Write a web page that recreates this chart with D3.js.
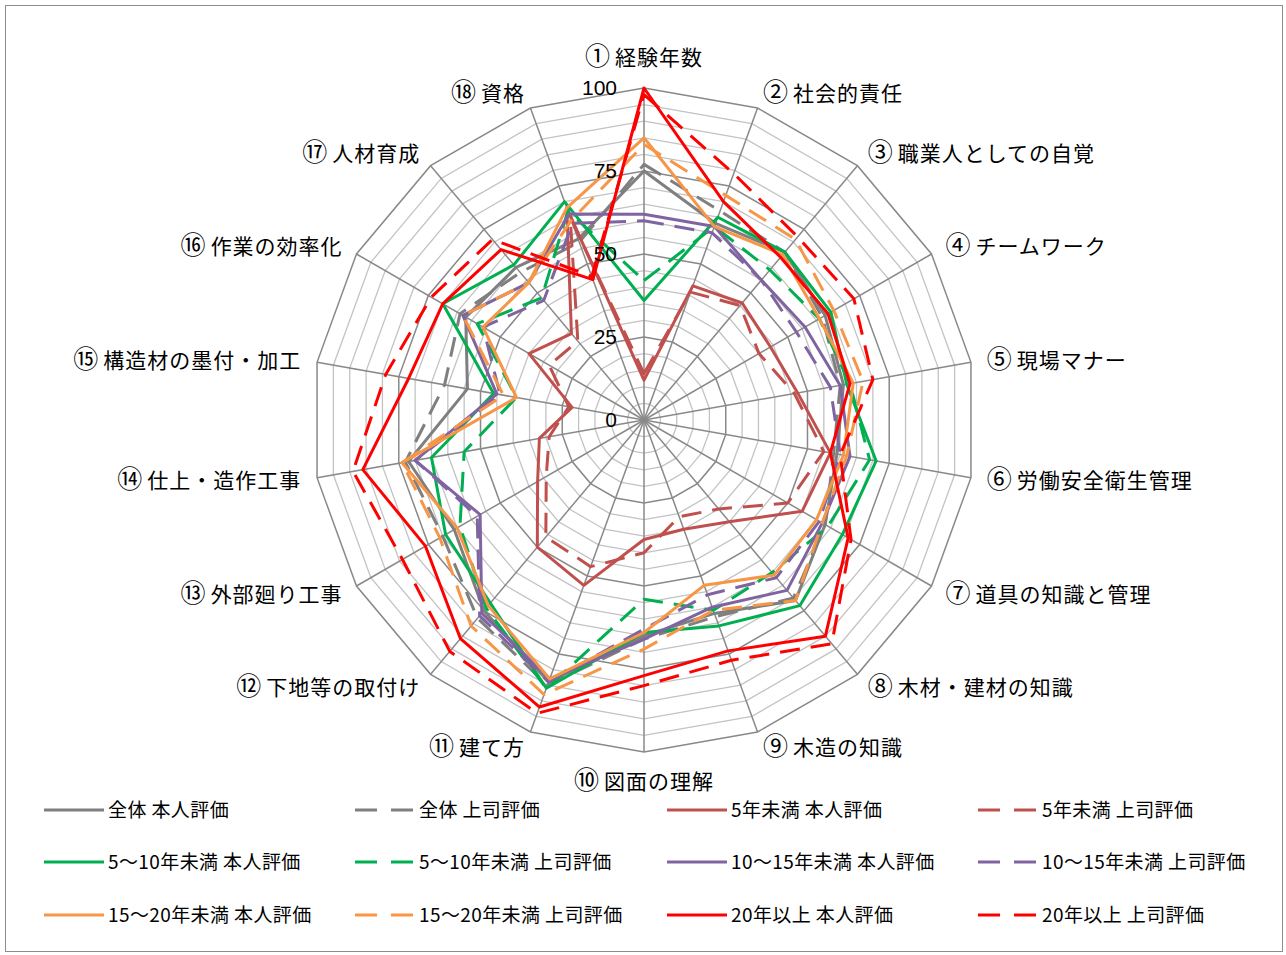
<!DOCTYPE html>
<html>
<head>
<meta charset="utf-8">
<script src="https://cdn.jsdelivr.net/npm/d3@7"></script>
<style>
  body { margin: 0; background: #fff; }
  svg { display: block; }
  text { font-family: "Noto Sans CJK JP", sans-serif; fill: #000; }
</style>
</head>
<body>
<svg id="radar" width="1286" height="955"></svg>
<script>
// axis labels (clockwise from top)
var axisNumbers = ["①", "②", "③", "④", "⑤", "⑥", "⑦", "⑧", "⑨", "⑩", "⑪", "⑫", "⑬", "⑭", "⑮", "⑯", "⑰", "⑱"];
var axisLabels = ["経験年数", "社会的責任", "職業人としての自覚", "チームワーク",
  "現場マナー", "労働安全衛生管理", "道具の知識と管理", "木材・建材の知識",
  "木造の知識", "図面の理解", "建て方", "下地等の取付け", "外部廻り工事",
  "仕上・造作工事", "構造材の墨付・加工", "作業の効率化", "人材育成", "資格"];
var tickValues = [0, 25, 50, 75, 100];

// values, one per axis
var allSelf      = [75, 63, 66, 63, 61, 59, 63, 71, 62, 65, 84, 75, 66, 72, 54, 62, 60, 58];
var allBoss      = [77, 67, 66, 62, 60, 58, 63, 70, 63, 66, 85, 78, 70, 73, 61, 64, 58, 57];
var under5Self   = [12, 43, 46, 44, 47, 57, 55, 40, 35, 36, 53, 50, 37, 32, 22, 40, 34, 68];
var under5Boss   = [14, 41, 45, 40, 46, 55, 50, 35, 31, 40, 47, 46, 34, 29, 23, 33, 31, 65];
var y5to10Self   = [36, 65, 66, 65, 62, 71, 69, 73, 66, 64, 86, 72, 69, 65, 46, 70, 61, 70];
var y5to10Boss   = [42, 62, 59, 61, 63, 69, 64, 60, 61, 54, 86, 74, 64, 55, 39, 58, 48, 67];
var y10to15Self  = [62, 62, 55, 56, 60, 63, 62, 67, 60, 66, 83, 76, 57, 70, 45, 63, 54, 66];
var y10to15Boss  = [60, 60, 55, 53, 57, 60, 61, 62, 56, 63, 84, 77, 58, 70, 44, 56, 47, 63];
var y15to20Self  = [85, 62, 65, 61, 64, 61, 60, 61, 53, 64, 83, 73, 65, 74, 39, 56, 54, 68];
var y15to20Boss  = [83, 72, 71, 66, 67, 62, 62, 71, 61, 69, 88, 81, 71, 74, 43, 63, 54, 64];
var over20Self   = [100, 70, 64, 64, 63, 57, 71, 85, 74, 77, 92, 86, 76, 86, 72, 70, 67, 45];
var over20Boss   = [98, 79, 72, 73, 70, 60, 72, 88, 77, 80, 94, 91, 84, 89, 79, 74, 71, 46];

var seriesNames = ["全体 本人評価", "全体 上司評価", "5年未満 本人評価", "5年未満 上司評価",
  "5～10年未満 本人評価", "5～10年未満 上司評価", "10～15年未満 本人評価", "10～15年未満 上司評価",
  "15～20年未満 本人評価", "15～20年未満 上司評価", "20年以上 本人評価", "20年以上 上司評価"];
var seriesValues = [allSelf, allBoss, under5Self, under5Boss, y5to10Self, y5to10Boss,
  y10to15Self, y10to15Boss, y15to20Self, y15to20Boss, over20Self, over20Boss];

var groupColors = ["#7f7f7f", "#c0504d", "#00b050", "#8064a2", "#f79646", "#ff0000"];

var series = seriesNames.map(function (name, i) {
  return { name: name, values: seriesValues[i], color: groupColors[Math.floor(i / 2)], dashed: i % 2 === 1 };
});

var svg = d3.select("#radar"),
  cx = 644, cy = 420, R = 332;

svg.append("rect")
  .attr("x", 5.5).attr("y", 5.5).attr("width", 1277).attr("height", 946)
  .attr("fill", "none").attr("stroke", "#8c8c8c").attr("stroke-width", 1);

var r = d3.scaleLinear().domain([0, 100]).range([0, R]);
var angle = d3.scaleLinear().domain([0, axisLabels.length]).range([0, 2 * Math.PI]);

var g = svg.append("g").attr("transform", "translate(" + cx + "," + cy + ")");

function ringPath(v) {
  return d3.lineRadial()
    .angle(function (d, i) { return angle(i); })
    .radius(r(v))
    .curve(d3.curveLinearClosed)(axisLabels);
}

// minor rings every 5, major every 25
var ringVals = d3.range(5, 101, 5);
g.selectAll(".minor")
  .data(ringVals.filter(function (v) { return v % 25 !== 0; }))
  .enter().append("path")
  .attr("class", "minor")
  .attr("d", ringPath)
  .attr("fill", "none").attr("stroke", "#c3c3c3").attr("stroke-width", 1.3);

g.selectAll(".spoke")
  .data(axisLabels)
  .enter().append("line")
  .attr("class", "spoke")
  .attr("x1", 0).attr("y1", 0)
  .attr("x2", function (d, i) { return r(100) * Math.sin(angle(i)); })
  .attr("y2", function (d, i) { return -r(100) * Math.cos(angle(i)); })
  .attr("stroke", "#898989").attr("stroke-width", 1.5);

g.selectAll(".major")
  .data(tickValues.filter(function (v) { return v > 0; }))
  .enter().append("path")
  .attr("class", "major")
  .attr("d", ringPath)
  .attr("fill", "none").attr("stroke", "#898989").attr("stroke-width", 1.5);

// series lines
var line = d3.lineRadial()
  .angle(function (d, i) { return angle(i); })
  .radius(function (d) { return r(d); })
  .curve(d3.curveLinearClosed);

g.selectAll(".series")
  .data(series)
  .enter().append("path")
  .attr("class", "series")
  .attr("d", function (d) { return line(d.values); })
  .attr("fill", "none")
  .attr("stroke", function (d) { return d.color; })
  .attr("stroke-width", 3)
  .attr("stroke-linejoin", "round")
  .attr("stroke-dasharray", function (d) { return d.dashed ? "20,11" : null; });

// tick labels
g.selectAll(".tick")
  .data(tickValues)
  .enter().append("text")
  .attr("class", "tick")
  .attr("x", -27)
  .attr("y", function (d) { return -r(d); })
  .attr("dy", "0.35em")
  .attr("text-anchor", "end")
  .style("font-family", "'Liberation Sans', sans-serif")
  .style("font-size", "21px")
  .text(function (d) { return d; });

// axis labels
var labels = g.selectAll(".axis-label")
  .data(axisLabels)
  .enter().append("text")
  .attr("class", "axis-label")
  .attr("x", function (d, i) { return (R + 16) * Math.sin(angle(i)); })
  .attr("y", function (d, i) {
    var y = -(R + 16) * Math.cos(angle(i));
    if (i === 0) y -= 15;
    if (i === 9) y += 13;
    return y;
  })
  .attr("text-anchor", function (d, i) {
    if (i === 0 || i === 9) return "middle";
    return i < 9 ? "start" : "end";
  })
  .style("font-size", "21px")
  .style("letter-spacing", "1px");

labels.append("tspan")
  .style("font-size", "25px")
  .attr("dy", 8)
  .text(function (d, i) { return axisNumbers[i]; });

labels.append("tspan")
  .attr("dx", 4)
  .text(function (d) { return d; });

// legend
var legendX = [44, 355, 667, 978], legendY = [810, 862, 915];
var legend = svg.selectAll(".legend")
  .data(series)
  .enter().append("g")
  .attr("class", "legend")
  .attr("transform", function (d, i) {
    return "translate(" + legendX[i % 4] + "," + legendY[Math.floor(i / 4)] + ")";
  });

legend.append("line")
  .attr("x1", 0).attr("x2", function (d) { return d.dashed ? 58 : 60; })
  .attr("y1", 0).attr("y2", 0)
  .attr("stroke", function (d) { return d.color; })
  .attr("stroke-width", 3)
  .attr("stroke-dasharray", function (d) { return d.dashed ? "22,14" : null; });

legend.append("text")
  .attr("x", 64)
  .attr("y", 0)
  .attr("dy", "0.36em")
  .style("font-size", "19px")
  .style("letter-spacing", "0.4px")
  .text(function (d) { return d.name; });
</script>
</body>
</html>
